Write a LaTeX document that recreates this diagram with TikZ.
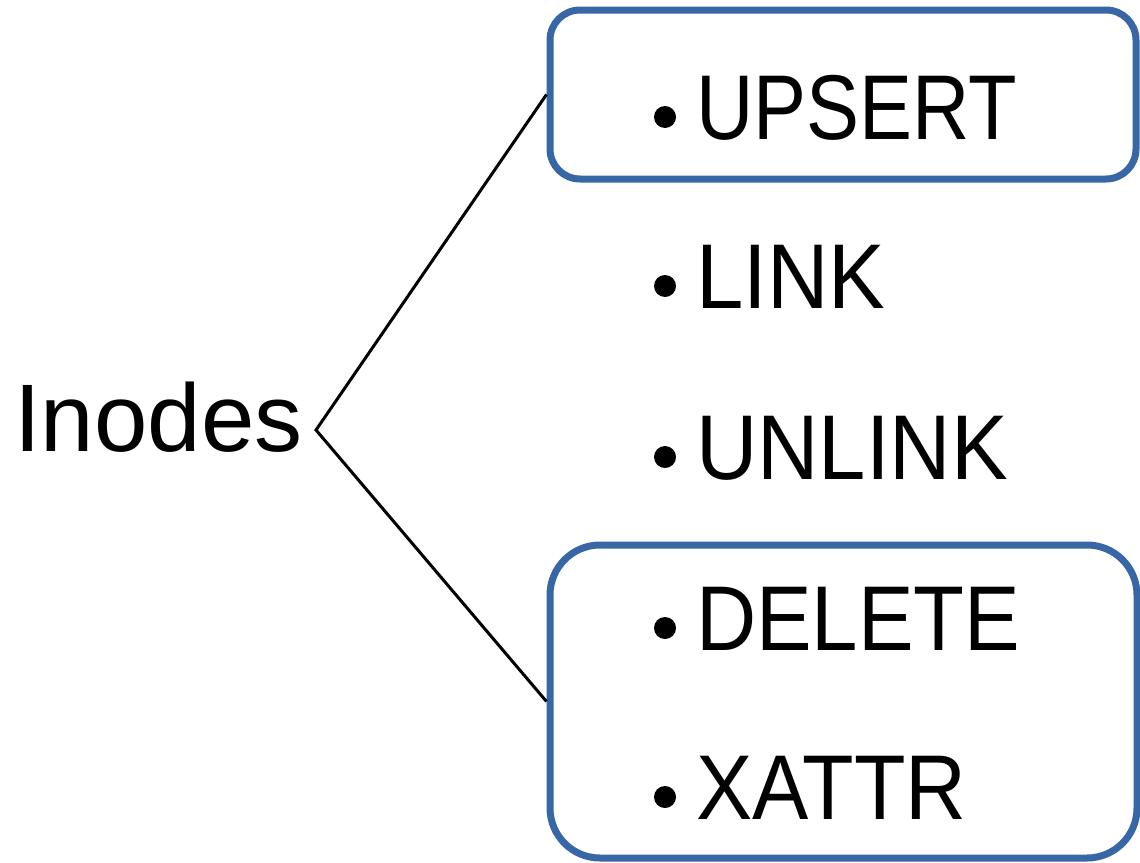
\documentclass[tikz,border=0pt]{standalone}
\usepackage{fontspec}
\setmainfont{Liberation Sans}
\definecolor{boxblue}{RGB}{56,103,166}
\begin{document}
\begin{tikzpicture}[x=1pt,y=-1pt,
  grp/.style={draw=boxblue, line width=7pt, inner sep=0pt},
  item/.style={anchor=base west, inner sep=0pt, font=\fontsize{92}{92}\selectfont},
  dot/.style={fill=black, draw=none},
  link/.style={line width=3pt, black}]
\useasboundingbox (0,0) rectangle (1140,862);
\node[grp, rounded corners=30pt, minimum width=586pt, minimum height=169pt] (top) at (843,94.5) {};
\node[grp, rounded corners=50pt, minimum width=587pt, minimum height=313pt] (bot) at (843.5,701.5) {};
\node[anchor=base west, inner sep=0pt, font=\fontsize{96}{96}\selectfont] (inodes) at (14,451) {Inodes};
\coordinate (v) at (316,430);
\draw[link] (top.west) -- (v) -- (bot.west);
\foreach \t/\y/\f [count=\i] in {UPSERT/139/0.863, LINK/308/0.925, UNLINK/479/0.924, DELETE/650/0.906, XATTR/819/0.917}{
  \fill[dot] (665,\y-22) circle (11);
  \node[item] (it\i) at (696,\y) {\scalebox{\f}[1]{\t}};
}
\end{tikzpicture}
\end{document}
